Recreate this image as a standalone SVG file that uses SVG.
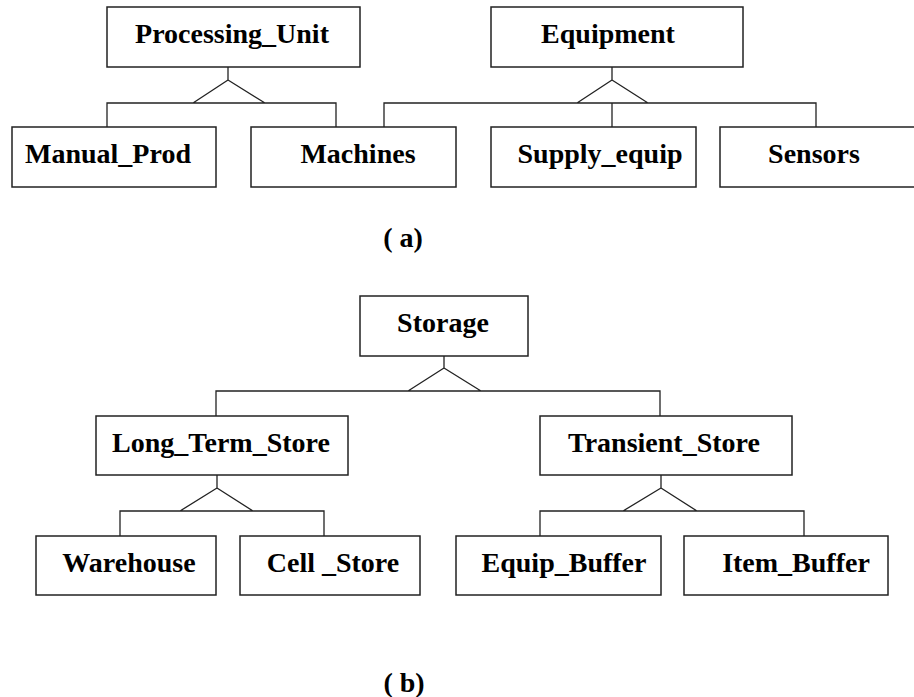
<svg xmlns="http://www.w3.org/2000/svg" width="914" height="697" viewBox="0 0 914 697">
  <style>
    .box { fill: #ffffff; stroke: #222222; stroke-width: 1.5; }
    .ln { fill: none; stroke: #222222; stroke-width: 1.3; }
    .lbl { font-family: "Liberation Serif", "Times New Roman", serif; font-weight: bold; font-size: 28px; fill: #000000; text-anchor: middle; }
  </style>
  <rect width="914" height="697" fill="#ffffff"/>

  <!-- generalisation connectors -->
  <g id="connectors">
    <!-- Processing_Unit -->
    <path class="ln" d="M228,67 V80 M228,80 L193,103 M228,80 L265,103 M107,127 V103 H336 V127"/>
    <!-- Equipment -->
    <path class="ln" d="M612,67 V80 M612,80 L577,103 M612,80 L648,103 M384,127 V103 H816 V127 M612,103 V127"/>
    <!-- Storage -->
    <path class="ln" d="M444,356 V368 M444,368 L408,391 M444,368 L481,391 M216,416 V391 H660 V416"/>
    <!-- Long_Term_Store -->
    <path class="ln" d="M217,475 V488 M217,488 L180,511 M217,488 L253,511 M120,536 V511 H324 V536"/>
    <!-- Transient_Store -->
    <path class="ln" d="M661,475 V488 M661,488 L623,511 M661,488 L697,511 M540,536 V511 H804 V536"/>
  </g>

  <!-- (a) -->
  <g id="processing_unit">
    <rect class="box" x="107" y="7" width="253" height="60"/>
    <text class="lbl" x="232" y="43">Processing_Unit</text>
  </g>
  <g id="equipment">
    <rect class="box" x="491" y="7" width="252" height="60"/>
    <text class="lbl" x="608" y="43">Equipment</text>
  </g>
  <g id="manual_prod">
    <rect class="box" x="12" y="127" width="204" height="60"/>
    <text class="lbl" x="108" y="163">Manual_Prod</text>
  </g>
  <g id="machines">
    <rect class="box" x="251" y="127" width="205" height="60"/>
    <text class="lbl" x="358" y="163">Machines</text>
  </g>
  <g id="supply_equip">
    <rect class="box" x="491" y="127" width="205" height="60"/>
    <text class="lbl" x="600" y="163">Supply_equip</text>
  </g>
  <g id="sensors">
    <rect class="box" x="720" y="127" width="200" height="60"/>
    <text class="lbl" x="814" y="163">Sensors</text>
  </g>
  <text class="lbl" x="403" y="247">( a)</text>

  <!-- (b) -->
  <g id="storage">
    <rect class="box" x="360" y="296" width="168" height="60"/>
    <text class="lbl" x="443" y="332">Storage</text>
  </g>
  <g id="long_term_store">
    <rect class="box" x="96" y="416" width="252" height="59"/>
    <text class="lbl" x="221" y="452">Long_Term_Store</text>
  </g>
  <g id="transient_store">
    <rect class="box" x="540" y="416" width="252" height="59"/>
    <text class="lbl" x="664" y="452">Transient_Store</text>
  </g>
  <g id="warehouse">
    <rect class="box" x="36" y="536" width="180" height="59"/>
    <text class="lbl" x="129" y="572">Warehouse</text>
  </g>
  <g id="cell_store">
    <rect class="box" x="240" y="536" width="180" height="59"/>
    <text class="lbl" x="333" y="572">Cell _Store</text>
  </g>
  <g id="equip_buffer">
    <rect class="box" x="456" y="536" width="205" height="59"/>
    <text class="lbl" x="564" y="572">Equip_Buffer</text>
  </g>
  <g id="item_buffer">
    <rect class="box" x="684" y="536" width="204" height="59"/>
    <text class="lbl" x="796" y="572">Item_Buffer</text>
  </g>
  <text class="lbl" x="404" y="692">( b)</text>
</svg>
